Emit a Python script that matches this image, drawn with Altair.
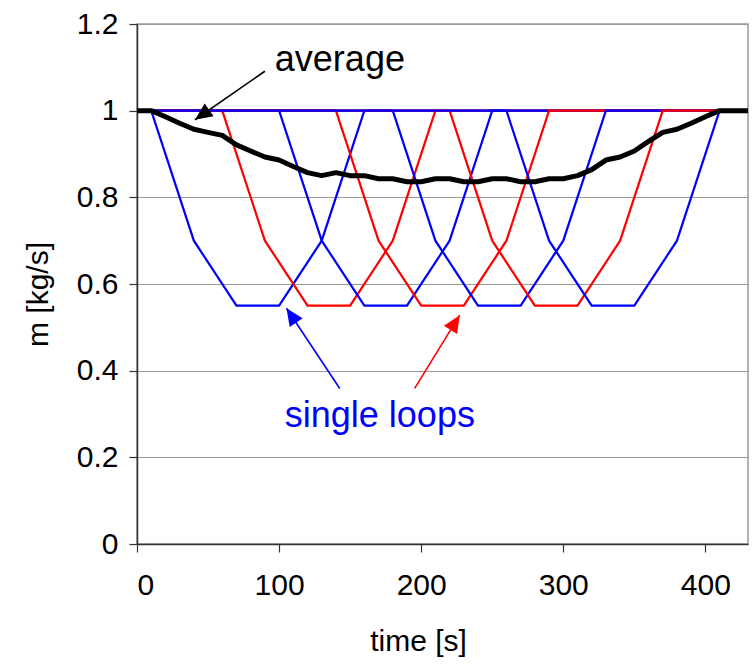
import altair as alt
import pandas as pd

# ---- data ----
loop_values = [1.0, 0.7, 0.55, 0.55, 0.7, 1.0]
blue_loop_times = [
    [10, 40, 70, 100, 130, 160],
    [100, 130, 160, 190, 220, 250],
    [180, 210, 240, 270, 300, 330],
    [260, 290, 320, 350, 380, 410],
]
red_loop_times = [
    [60, 90, 120, 150, 180, 210],
    [140, 170, 200, 230, 260, 290],
    [220, 250, 280, 310, 340, 370],
]
series_start, series_end = 10, 410

avg_time = [0, 10, 20, 30, 40, 50, 60, 70, 80, 90, 100, 110, 120, 130, 140, 150,
            160, 170, 180, 190, 200, 210, 220, 230, 240, 250, 260, 270, 280, 290,
            300, 310, 320, 330, 340, 350, 360, 370, 380, 390, 400, 410, 420, 430]
avg_value = [1.0, 1.0, 0.986, 0.971, 0.957, 0.95, 0.943, 0.921, 0.907, 0.893,
             0.886, 0.871, 0.857, 0.85, 0.857, 0.85, 0.85, 0.843, 0.843, 0.836,
             0.836, 0.843, 0.843, 0.836, 0.836, 0.843, 0.843, 0.836, 0.836, 0.843,
             0.843, 0.85, 0.864, 0.886, 0.893, 0.907, 0.929, 0.95, 0.957, 0.971,
             0.986, 1.0, 1.0, 1.0]

x_ticks = [0, 100, 200, 300, 400]
y_ticks = [0, 0.2, 0.4, 0.6, 0.8, 1.0, 1.2]

# annotations (data coordinates)
labels_text = ["average", "single loops"]
labels_t = [97, 104]
labels_m = [1.091, 0.27]
labels_color = ["black", "#0000ff"]

arrow_t0 = [90, 142.7, 195.4]
arrow_m0 = [1.091, 0.359, 0.359]
arrow_t1 = [40.8, 105.2, 227.1]
arrow_m1 = [0.979, 0.544, 0.528]
arrow_color = ["black", "#0000ff", "#ff0000"]
arrow_angle = [235, 326, 32]

# ---- build tables ----
loops = []
for times in blue_loop_times:
    loops.append((times[0], "#0000ff", times))
for times in red_loop_times:
    loops.append((times[0], "#ff0000", times))
loops.sort(key=lambda r: r[0])

W, H = 611, 520
xs = alt.Scale(domain=[0, 430], nice=False, zero=False)
ys = alt.Scale(domain=[0, 1.2], nice=False)

x_axis = alt.Axis(values=x_ticks, title="time [s]", grid=False, tickSize=8,
                  labelPadding=18, titleX=281, titleY=106,
                  titleBaseline="alphabetic", titleAlign="center")
y_axis = alt.Axis(values=y_ticks, title="m [kg/s]", format="~g", grid=True,
                  tickSize=8, labelPadding=11, titleX=-90, titleY=270,
                  titleBaseline="alphabetic", titleAlign="center", titleAngle=270)


def X(field):
    return alt.X(field, scale=xs, axis=x_axis)


def Y(field):
    return alt.Y(field, scale=ys, axis=y_axis)


layers = []
for start, color, times in loops:
    tt = list(times)
    vv = list(loop_values)
    if tt[0] > series_start:
        tt = [series_start] + tt
        vv = [1.0] + vv
    if tt[-1] < series_end:
        tt = tt + [series_end]
        vv = vv + [1.0]
    df = pd.DataFrame({"t": tt, "m": vv, "o": list(range(len(tt)))})
    layers.append(
        alt.Chart(df).mark_line(color=color, strokeWidth=2.2).encode(
            x=X("t:Q"), y=Y("m:Q"), order="o:Q",
        )
    )

avg_df = pd.DataFrame({"t": avg_time, "m": avg_value})
layers.append(
    alt.Chart(avg_df).mark_line(color="black", strokeWidth=5, strokeJoin="round").encode(
        x=X("t:Q"), y=Y("m:Q"),
    )
)

arr_df = pd.DataFrame({"t0": arrow_t0, "m0": arrow_m0, "t1": arrow_t1, "m1": arrow_m1,
                       "c": arrow_color, "a": arrow_angle})
layers.append(
    alt.Chart(arr_df).mark_rule(strokeWidth=1.6).encode(
        x=X("t0:Q"), y=Y("m0:Q"), x2="t1:Q", y2="m1:Q",
        color=alt.Color("c:N", scale=None),
    )
)
layers.append(
    alt.Chart(arr_df).mark_point(
        shape="M0,0 L0.9,2 L-0.9,2 Z", filled=True, size=300, opacity=1, strokeWidth=0
    ).encode(
        x=X("t1:Q"), y=Y("m1:Q"),
        angle=alt.Angle("a:Q", scale=None),
        color=alt.Color("c:N", scale=None),
    )
)

lab_df = pd.DataFrame({"t": labels_t, "m": labels_m, "txt": labels_text, "c": labels_color})
layers.append(
    alt.Chart(lab_df).mark_text(align="left", baseline="alphabetic", fontSize=36,
                                font="Liberation Sans").encode(
        x=X("t:Q"), y=Y("m:Q"), text="txt:N",
        color=alt.Color("c:N", scale=None),
    )
)

chart = alt.layer(*layers).properties(
    width=W, height=H,
    autosize=alt.AutoSizeParams(type="none"),
    padding={"left": 137, "top": 24, "right": 5, "bottom": 121},
    background="white",
).configure_view(
    stroke="#999999", strokeWidth=1.5
).configure_axis(
    labelFont="Liberation Sans", titleFont="Liberation Sans",
    labelFontSize=30, titleFontSize=30, titleFontWeight="normal",
    labelColor="black", titleColor="black",
    domainColor="#333333", domainWidth=1.5, tickColor="#333333", tickWidth=1.2,
    gridColor="#9a9a9a", gridWidth=1,
)

chart.save("out.html", embed_options={"renderer": "svg", "actions": False})
